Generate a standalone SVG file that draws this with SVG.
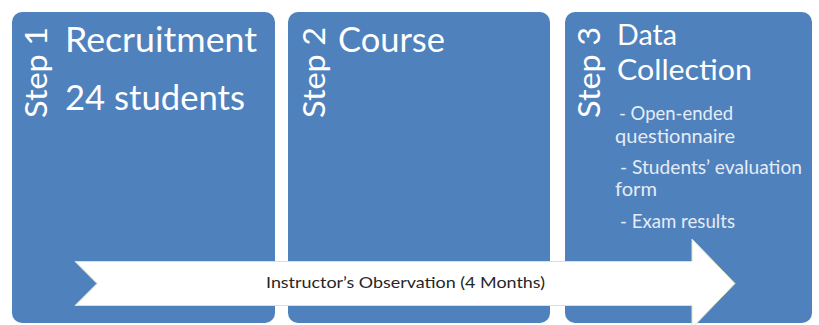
<svg xmlns="http://www.w3.org/2000/svg" width="819" height="325" viewBox="0 0 819 325">
  <style>
    .panel { fill: #4F81BD; }
    .step { font-family: Lato, "Open Sans", "Liberation Sans", sans-serif; font-size: 31px; fill: #ffffff; }
    .title { font-family: Lato, "Open Sans", "Liberation Sans", sans-serif; font-size: 34px; fill: #ffffff; }
    .title-sm { font-family: Lato, "Open Sans", "Liberation Sans", sans-serif; font-size: 29px; fill: #ffffff; }
    .bullet { font-family: Lato, "Open Sans", "Liberation Sans", sans-serif; font-size: 19px; fill: #e4ecf6; }
    .band { fill: #ffffff; stroke: #d9e3c9; stroke-width: 1; }
    .band-label { font-family: Lato, "Open Sans", "Liberation Sans", sans-serif; font-size: 15px; fill: #262626; }
  </style>
  <rect width="819" height="325" fill="#ffffff"/>

  <!-- Step 1: recruitment -->
  <g id="step1">
    <rect class="panel" x="12" y="12" width="263" height="311" rx="10" ry="10"/>
    <text class="step" transform="translate(47,118) rotate(-90)" textLength="91" lengthAdjust="spacingAndGlyphs">Step 1</text>
    <text class="title" x="65" y="52" textLength="192" lengthAdjust="spacingAndGlyphs">Recruitment</text>
    <text class="title" x="65" y="110" textLength="180" lengthAdjust="spacingAndGlyphs">24 students</text>
  </g>

  <!-- Step 2: course -->
  <g id="step2">
    <rect class="panel" x="288" y="12" width="262" height="311" rx="10" ry="10"/>
    <text class="step" transform="translate(325,118) rotate(-90)" textLength="91" lengthAdjust="spacingAndGlyphs">Step 2</text>
    <text class="title" x="338" y="52" textLength="107" lengthAdjust="spacingAndGlyphs">Course</text>
  </g>

  <!-- Step 3: data collection -->
  <g id="step3">
    <rect class="panel" x="565" y="12" width="247" height="311" rx="10" ry="10"/>
    <text class="step" transform="translate(600,118) rotate(-90)" textLength="91" lengthAdjust="spacingAndGlyphs">Step 3</text>
    <text class="title-sm" x="617" y="45" textLength="60" lengthAdjust="spacingAndGlyphs">Data</text>
    <text class="title-sm" x="617" y="80" textLength="135" lengthAdjust="spacingAndGlyphs">Collection</text>
    <text class="bullet" x="619" y="120" textLength="114" lengthAdjust="spacingAndGlyphs">- Open-ended</text>
    <text class="bullet" x="615" y="143" textLength="120" lengthAdjust="spacingAndGlyphs">questionnaire</text>
    <text class="bullet" x="620" y="174" textLength="182" lengthAdjust="spacingAndGlyphs">- Students’ evaluation</text>
    <text class="bullet" x="615" y="196" textLength="42" lengthAdjust="spacingAndGlyphs">form</text>
    <text class="bullet" x="620" y="228" textLength="115" lengthAdjust="spacingAndGlyphs">- Exam results</text>
  </g>

  <!-- Timeline band across all steps -->
  <g id="observation">
    <polygon class="band" points="75,261.5 692,261.5 692,239 735,283.5 692,328 692,305.5 75,305.5 97,283.5"/>
    <text class="band-label" x="266" y="288" textLength="279" lengthAdjust="spacingAndGlyphs">Instructor’s Observation (4 Months)</text>
  </g>
</svg>
